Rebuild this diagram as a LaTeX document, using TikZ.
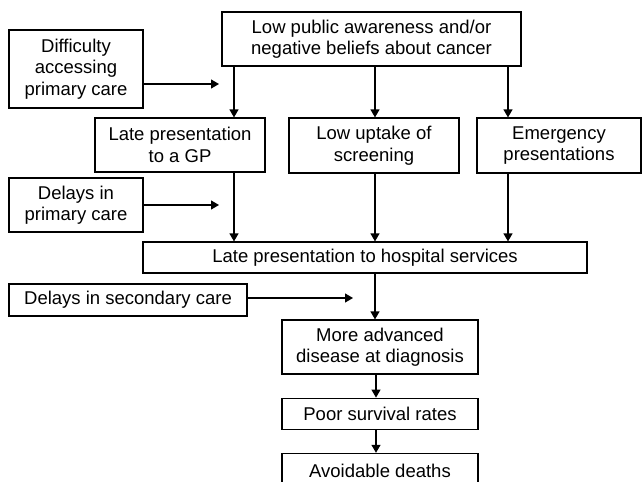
\documentclass[tikz,border=0pt]{standalone}
\usepackage{fontspec}
\setmainfont{Liberation Sans}
\usetikzlibrary{arrows.meta}
\usetikzlibrary{positioning}

\begin{document}
\begin{tikzpicture}[x=1pt,y=-1pt,line width=1.2pt,
    box/.style={draw,align=center,inner sep=0pt,minimum height=54pt,font=\fontsize{18.5}{21.5}\selectfont},
    arr/.style={-{Triangle[width=9pt,length=8pt]}}]
    \useasboundingbox (0,0) rectangle (643,482);
    \node[box,minimum width=299pt] (awareness) at (371.5,39) {Low public awareness and/or\\negative beliefs about cancer};
    \node[box,minimum width=134pt,minimum height=78pt] (difficulty) at (76,69) {Difficulty\\accessing\\primary care};
    \node[box,minimum width=170pt] (gp) at (180,145) {Late presentation\\to a GP};
    \node[box,minimum width=170pt,minimum height=55pt] (uptake) at (374,145.5) {Low uptake of\\screening};
    \node[box,minimum width=164pt,minimum height=55pt] (emergency) at (559,145.5) {Emergency\\presentations};
    \node[box,minimum width=134pt] (primary) at (76,205) {Delays in\\primary care};
    \node[box,minimum width=444pt,minimum height=31pt] (hospital) at (365,257.5) {Late presentation to hospital services};
    \node[box,minimum width=238pt,minimum height=32pt] (secondary) at (128,300) {Delays in secondary care};
    \node[box,minimum width=196pt] (advanced) at (380,347) {More advanced\\disease at diagnosis};
    \node[box,minimum width=196pt,minimum height=31pt,below=23pt of advanced] (survival) {Poor survival rates};
    \node[box,minimum width=196pt,minimum height=34pt,below=23pt of survival] (deaths) {Avoidable deaths};
    % columns of the vertical arrows and free arrow ends
    \coordinate (xgp) at (234,0);
    \coordinate (xmid) at (375,0);
    \coordinate (xem) at (508,0);
    \coordinate (xchain) at (376,0);
    \coordinate (tipdiff) at (219,84);
    \coordinate (tipprim) at (219,205);
    \coordinate (tipsec) at (353,298);
    \draw[arr] (awareness.south -| xgp) -- (gp.north -| xgp);
    \draw[arr] (awareness.south -| xmid) -- (uptake.north -| xmid);
    \draw[arr] (awareness.south -| xem) -- (emergency.north -| xem);
    \draw[arr] (difficulty.east |- tipdiff) -- (tipdiff);
    \draw[arr] (primary.east |- tipprim) -- (tipprim);
    \draw[arr] (secondary.east |- tipsec) -- (tipsec);
    \draw[arr] (gp.south -| xgp) -- (hospital.north -| xgp);
    \draw[arr] (uptake.south -| xmid) -- (hospital.north -| xmid);
    \draw[arr] (emergency.south -| xem) -- (hospital.north -| xem);
    \draw[arr] (hospital.south -| xmid) -- (advanced.north -| xmid);
    \draw[arr] (advanced.south -| xchain) -- (survival.north -| xchain);
    \draw[arr] (survival.south -| xchain) -- (deaths.north -| xchain);
\end{tikzpicture}
\end{document}
